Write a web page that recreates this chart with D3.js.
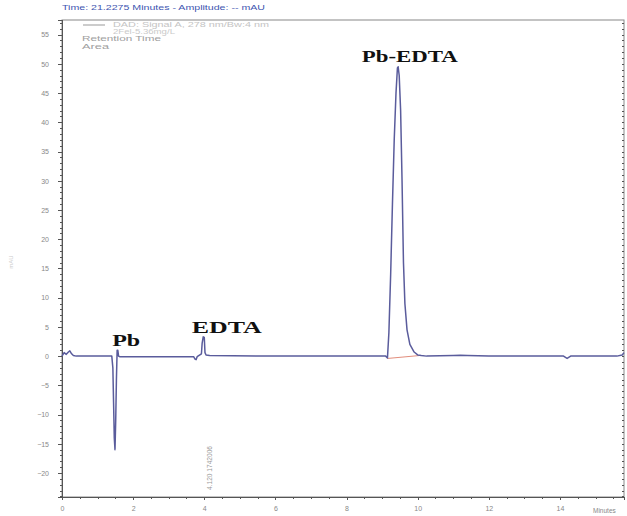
<!DOCTYPE html>
<html>
<head>
<meta charset="utf-8">
<script src="https://cdn.jsdelivr.net/npm/d3@7"></script>
<style>
  body { margin: 0; background: #fff; }
  svg { font-family: "Liberation Sans", Arial, sans-serif; }
  .axis path, .axis line { stroke: #555; shape-rendering: crispEdges; }
  .axis text { fill: #888; font-size: 7px; }
  .peak { font-family: "Liberation Serif", "Times New Roman", serif; font-weight: bold; font-size: 16.5px; fill: #111; }
</style>
</head>
<body>
<svg id="chrom" width="627" height="516"></svg>
<script>
// chromatogram trace (minutes, mAU)
var traceTime = [0, 0.06, 0.12, 0.18, 0.22, 0.27, 0.32, 0.4, 0.5, 1.40, 1.43, 1.45, 1.47, 1.49, 1.51, 1.53, 1.55, 1.57, 1.59, 1.62, 1.7,
  3.7, 3.74, 3.77, 3.8, 3.92, 3.94, 3.97, 4.0, 4.02, 4.05, 4.15, 5.5,
  9.1, 9.15, 9.19, 9.24, 9.29, 9.34, 9.39, 9.43, 9.45, 9.48, 9.52, 9.56, 9.6, 9.64, 9.7, 9.78, 9.9, 10.0, 10.1, 10.25,
  11.0, 11.2, 11.4, 12.0, 14.1, 14.2, 14.3, 15.6, 15.75, 15.8];
var traceAmp = [0, 0.6, 0.3, 0.7, 0.9, 0.4, 0.1, 0, 0, 0, -2, -8, -14, -16, -11, -4, 1.0, 1.0, 0, -0.1, -0.1,
  -0.1, -0.5, -0.6, -0.1, 0.4, 2.2, 3.3, 3.2, 0.6, 0.2, 0.1, 0,
  0, -0.3, 4, 14, 26, 37, 45, 49.3, 49.5, 48, 42, 30, 16, 9, 4.5, 2, 0.7, 0.2, 0.1, 0,
  0.1, 0.15, 0.1, 0, 0, -0.4, 0, 0, 0.2, 0.6];

// integration baseline under Pb-EDTA
var baseTime = [9.15, 10.05];
var baseAmp = [-0.4, 0.1];

var xTicks = [0, 2, 4, 6, 8, 10, 12, 14];
var yTicks = [-20, -15, -10, -5, 0, 5, 10, 15, 20, 25, 30, 35, 40, 45, 50, 55];

// peak labels: left edge (min), baseline (mAU), printed width (px)
var peakNames = ["Pb", "EDTA", "Pb-EDTA"];
var peakLabelTime = [1.41, 3.65, 8.43];
var peakLabelAmp = [1.75, 3.95, 50.3];
var peakLabelWidth = [28, 70, 96];

var svg = d3.select("#chrom");
var margin = {top: 20, right: 3, bottom: 19, left: 62};
var width = +svg.attr("width"), height = +svg.attr("height");

var x = d3.scaleLinear().domain([0, 15.8]).range([margin.left, width - margin.right]);
var y = d3.scaleLinear().domain([-24.1, 57.5]).range([height - margin.bottom, margin.top]);

// header
svg.append("text").attr("x", 62).attr("y", 10)
  .attr("fill", "#4055b0").attr("font-size", "8px")
  .attr("textLength", 203).attr("lengthAdjust", "spacingAndGlyphs")
  .text("Time:  21.2275 Minutes - Amplitude:  -- mAU");

// frame
svg.append("rect")
  .attr("x", margin.left).attr("y", margin.top)
  .attr("width", width - margin.left - margin.right)
  .attr("height", height - margin.top - margin.bottom)
  .attr("fill", "none").attr("stroke", "#888").attr("stroke-width", 1);

// minor ticks
var yMinor = d3.range(-24, 58, 1);
svg.append("g").attr("class", "axis")
  .attr("transform", "translate(" + margin.left + ",0)")
  .call(d3.axisLeft(y).tickValues(yMinor).tickSize(2).tickFormat(""))
  .select(".domain").remove();
svg.append("g").attr("class", "axis")
  .attr("transform", "translate(" + (width - margin.right) + ",0)")
  .call(d3.axisLeft(y).tickValues(yMinor).tickSize(2).tickFormat(""))
  .select(".domain").remove();
svg.append("g").attr("class", "axis")
  .attr("transform", "translate(0," + (height - margin.bottom) + ")")
  .call(d3.axisBottom(x).tickValues(d3.range(0, 15.8, 0.5)).tickSize(2).tickFormat(""))
  .select(".domain").remove();

// major axes
var yAxis = svg.append("g").attr("class", "axis")
  .attr("transform", "translate(" + margin.left + ",0)")
  .call(d3.axisLeft(y).tickValues(yTicks).tickSize(4).tickPadding(9));
yAxis.select(".domain").attr("stroke", "#333");

var xAxis = svg.append("g").attr("class", "axis")
  .attr("transform", "translate(0," + (height - margin.bottom) + ")")
  .call(d3.axisBottom(x).tickValues(xTicks).tickSize(3).tickPadding(6));
xAxis.select(".domain").attr("stroke", "#333");

svg.append("text").attr("x", 593).attr("y", 513)
  .attr("fill", "#888").attr("font-size", "6.5px").text("Minutes");

// faint y title
svg.append("text").attr("transform", "translate(13,262) rotate(-90)")
  .attr("fill", "#ccc").attr("font-size", "6px").attr("text-anchor", "middle").text("mAU");

// legend
svg.append("line").attr("x1", 83).attr("x2", 105).attr("y1", 25).attr("y2", 25)
  .attr("stroke", "#999").attr("stroke-width", 1);
svg.append("text").attr("x", 113).attr("y", 27).attr("fill", "#c4c4c4").attr("font-size", "7.5px")
  .attr("textLength", 156).attr("lengthAdjust", "spacingAndGlyphs")
  .text("DAD: Signal A, 278 nm/Bw:4 nm");
svg.append("text").attr("x", 113).attr("y", 33.5).attr("fill", "#cacaca").attr("font-size", "6.5px")
  .attr("textLength", 62).attr("lengthAdjust", "spacingAndGlyphs")
  .text("2Fel-5.36mg/L");
svg.append("text").attr("x", 82).attr("y", 41).attr("fill", "#a0a0a0").attr("font-size", "7.5px")
  .attr("textLength", 79).attr("lengthAdjust", "spacingAndGlyphs")
  .text("Retention Time");
svg.append("text").attr("x", 82).attr("y", 49).attr("fill", "#a0a0a0").attr("font-size", "7.5px")
  .attr("textLength", 27).attr("lengthAdjust", "spacingAndGlyphs")
  .text("Area");

// integration baseline
var lineGen = d3.line().x(function(d) { return x(d[0]); }).y(function(d) { return y(d[1]); });
svg.append("path")
  .datum(d3.zip(baseTime, baseAmp))
  .attr("fill", "none").attr("stroke", "#d9705a").attr("stroke-width", 0.8)
  .attr("d", lineGen);

// trace
svg.append("path")
  .datum(d3.zip(traceTime, traceAmp))
  .attr("fill", "none")
  .attr("stroke", "#5a5c9c")
  .attr("stroke-width", 1.5)
  .attr("stroke-linejoin", "round")
  .attr("d", lineGen);

// retention time annotation
svg.append("text")
  .attr("transform", "translate(" + (x(4.12) + 3) + "," + 490 + ") rotate(-90)")
  .attr("fill", "#999").attr("font-size", "7px")
  .attr("textLength", 44).attr("lengthAdjust", "spacingAndGlyphs")
  .text("4.120 1742006");

// peak labels
svg.selectAll("text.peak")
  .data(peakNames)
  .enter().append("text")
  .attr("class", "peak")
  .attr("x", function(d, i) { return x(peakLabelTime[i]); })
  .attr("y", function(d, i) { return y(peakLabelAmp[i]); })
  .attr("textLength", function(d, i) { return peakLabelWidth[i]; })
  .attr("lengthAdjust", "spacingAndGlyphs")
  .text(function(d) { return d; });
</script>
</body>
</html>
